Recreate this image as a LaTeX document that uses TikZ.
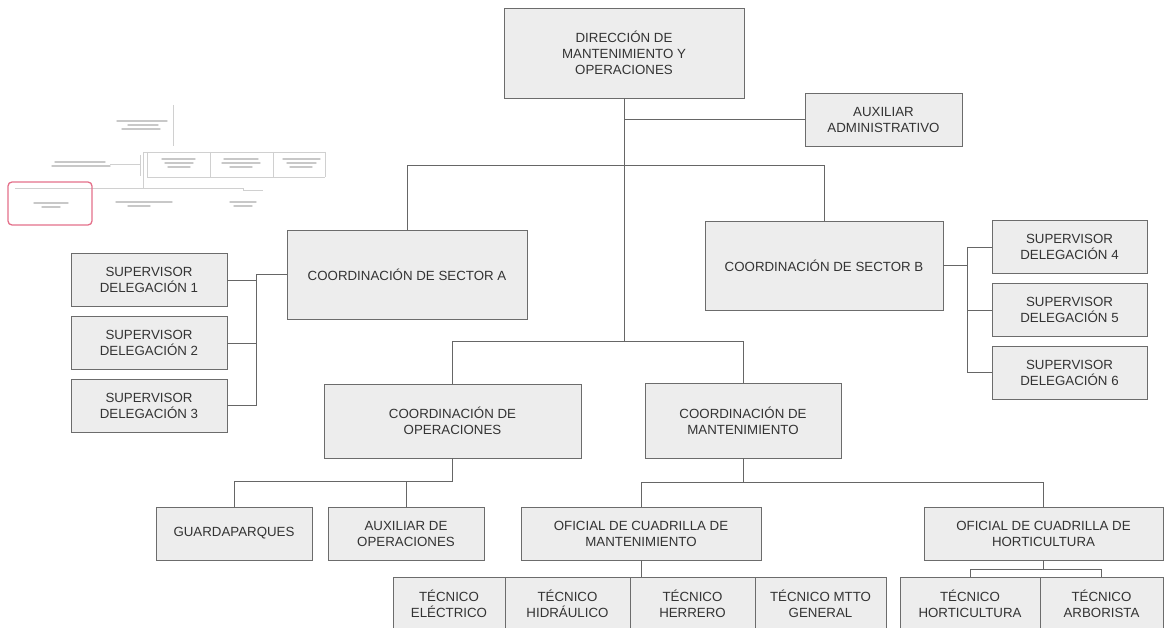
\documentclass[tikz,border=0pt]{standalone}
\usepackage{fontspec}
\setmainfont{Liberation Sans}
\definecolor{boxfill}{HTML}{EDEDED}
\definecolor{boxline}{HTML}{6C6C6C}
\definecolor{connline}{HTML}{666666}
\definecolor{txt}{HTML}{333333}
\definecolor{faint}{HTML}{D0D0D0}
\definecolor{blob}{HTML}{C8C8C8}
\definecolor{marker}{HTML}{E4708A}
\tikzset{
  orgbox/.style={draw=boxline, fill=boxfill, line width=0.9pt, align=center,
    text=txt, font=\fontsize{13.3}{16}\selectfont, inner sep=2pt},
  conn/.style={draw=connline, line width=0.9pt},
  mini/.style={draw=faint, line width=0.7pt},
  miniblob/.style={draw=blob, line width=1.4pt, line cap=round},
}
\begin{document}
\begin{tikzpicture}[x=1pt,y=-1pt]
\useasboundingbox (0,0) rectangle (1164,628);
\clip (0,0) rectangle (1164,628);

% ---------- overview thumbnail (top left) ----------
\draw[mini] (173,105) -- (173,146);
\draw[miniblob] (117,121) -- (167,121) (128,125) -- (158,125) (122,129) -- (160,129);
\draw[mini] (143,152) -- (325,152);
\draw[mini] (147,152) -- (147,177) -- (325,177);
\draw[mini] (210,152) -- (210,177) (273,152) -- (273,177) (325,152) -- (325,177);
\draw[miniblob] (162,159) -- (195,159) (165,163) -- (193,163) (168,167) -- (190,167);
\draw[miniblob] (224,159) -- (258,159) (222,163) -- (260,163) (230,167) -- (252,167);
\draw[miniblob] (283,159) -- (320,159) (287,163) -- (316,163) (290,167) -- (312,167);
\draw[mini] (143,152) -- (143,188) (140,155) -- (140,176);
\draw[miniblob] (55,162) -- (105,162) (52,166) -- (110,166);
\draw[mini] (110,164) -- (140,164);
\draw[mini] (15,188) -- (243,188) -- (243,190) -- (263,190);
\draw[miniblob] (34,203) -- (68,203) (42,207) -- (60,207);
\draw[miniblob] (116,202) -- (172,202) (128,206) -- (150,206);
\draw[miniblob] (230,202) -- (256,202) (234,206) -- (252,206);
\draw[marker, line width=1.3pt, rounded corners=4pt] (8,182) rectangle (92,225);

% ---------- boxes ----------
\node[orgbox, minimum width=240pt, minimum height=90pt] (dir) at (624,53)
  {DIRECCIÓN DE\\MANTENIMIENTO Y\\OPERACIONES};
\node[orgbox, minimum width=157pt, minimum height=53pt] (aux) at (883.5,119.5)
  {AUXILIAR\\ADMINISTRATIVO};
\node[orgbox, minimum width=240pt, minimum height=89pt] (secA) at (407,274.5)
  {COORDINACIÓN DE SECTOR A};
\node[orgbox, minimum width=238pt, minimum height=89pt] (secB) at (824,265.5)
  {COORDINACIÓN DE SECTOR B};

\node[orgbox, minimum width=156pt, minimum height=53pt] (sup1) at (149,280) {SUPERVISOR\\DELEGACIÓN 1};
\node[orgbox, minimum width=156pt, minimum height=53pt] (sup2) at (149,343) {SUPERVISOR\\DELEGACIÓN 2};
\node[orgbox, minimum width=156pt, minimum height=53pt] (sup3) at (149,405.5) {SUPERVISOR\\DELEGACIÓN 3};
\node[orgbox, minimum width=155pt, minimum height=53pt] (sup4) at (1069.5,247) {SUPERVISOR\\DELEGACIÓN 4};
\node[orgbox, minimum width=155pt, minimum height=53pt] (sup5) at (1069.5,310) {SUPERVISOR\\DELEGACIÓN 5};
\node[orgbox, minimum width=155pt, minimum height=53pt] (sup6) at (1069.5,372.5) {SUPERVISOR\\DELEGACIÓN 6};

\node[orgbox, minimum width=257pt, minimum height=74pt] (cop) at (452.5,421)
  {COORDINACIÓN DE\\OPERACIONES};
\node[orgbox, minimum width=196pt, minimum height=75pt] (cman) at (743,420.5)
  {COORDINACIÓN DE\\MANTENIMIENTO};

\node[orgbox, minimum width=156pt, minimum height=53pt] (guard) at (234,533.5) {GUARDAPARQUES};
\node[orgbox, minimum width=156pt, minimum height=53pt] (auxop) at (406,533.5) {AUXILIAR DE\\OPERACIONES};
\node[orgbox, minimum width=240pt, minimum height=53pt] (ofm) at (641,533.5)
  {OFICIAL DE CUADRILLA DE\\MANTENIMIENTO};
\node[orgbox, minimum width=239pt, minimum height=53pt] (ofh) at (1043.5,533.5)
  {OFICIAL DE CUADRILLA DE\\HORTICULTURA};

\node[orgbox, minimum width=112pt, minimum height=54pt] (tele) at (449,604) {TÉCNICO\\ELÉCTRICO};
\node[orgbox, minimum width=125pt, minimum height=54pt] (thid) at (567.5,604) {TÉCNICO\\HIDRÁULICO};
\node[orgbox, minimum width=125pt, minimum height=54pt] (ther) at (692.5,604) {TÉCNICO\\HERRERO};
\node[orgbox, minimum width=131pt, minimum height=54pt] (tmtto) at (820.5,604) {TÉCNICO MTTO\\GENERAL};
\node[orgbox, minimum width=140pt, minimum height=54pt] (thort) at (970,604) {TÉCNICO\\HORTICULTURA};
\node[orgbox, minimum width=123pt, minimum height=54pt] (tarb) at (1101.5,604) {TÉCNICO\\ARBORISTA};

% ---------- connectors ----------
\coordinate (trunk) at (dir.south |- 0,341);
\coordinate (bandAB) at (0,165);
\draw[conn] (dir.south) -- (trunk);
\draw[conn] (dir.south |- aux.west) -- (aux.west);
\draw[conn] (secA.north) -- (secA.north |- bandAB) -- (secB.north |- bandAB) -- (secB.north);
\draw[conn] (cop.north) -- (cop.north |- trunk) -- (cman.north |- trunk) -- (cman.north);

% sector A supervisors
\coordinate (busA) at (256,0);
\draw[conn] (secA.west) -- (busA |- secA.west) -- (busA |- sup3.east);
\foreach \s in {sup1,sup2,sup3} \draw[conn] (\s.east) -- (busA |- \s.east);

% sector B supervisors
\coordinate (busB) at (967,0);
\draw[conn] (secB.east) -- (busB |- secB.east);
\draw[conn] (busB |- sup4.west) -- (busB |- sup6.west);
\foreach \s in {sup4,sup5,sup6} \draw[conn] (\s.west) -- (busB |- \s.west);

% operations
\coordinate (bandOp) at (0,481);
\draw[conn] (cop.south) -- (cop.south |- bandOp) -- (guard.north |- bandOp) -- (guard.north);
\draw[conn] (auxop.north) -- (auxop.north |- bandOp);

% maintenance
\coordinate (bandMa) at (0,482);
\draw[conn] (cman.south) -- (cman.south |- bandMa);
\draw[conn] (ofm.north) -- (ofm.north |- bandMa) -- (ofh.north |- bandMa) -- (ofh.north);
\draw[conn] (ofm.south) -- (ofm.south |- ther.north);

% horticulture crew
\coordinate (bandHo) at (0,569);
\draw[conn] (ofh.south) -- (ofh.south |- bandHo);
\draw[conn] (thort.north) -- (thort.north |- bandHo) -- (tarb.north |- bandHo) -- (tarb.north);
\end{tikzpicture}
\end{document}
